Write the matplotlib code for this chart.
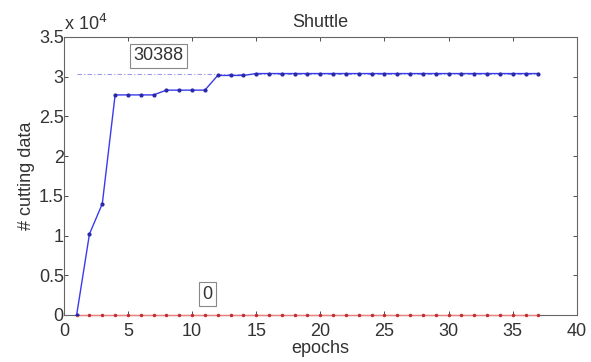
import matplotlib

matplotlib.use("Agg")

import matplotlib.pyplot as plt
from matplotlib.ticker import FuncFormatter

plt.rcParams["font.family"] = ["Liberation Sans", "DejaVu Sans"]

# data (cutting data per epoch)
epochs = list(range(1, 38))
blue_counts = [0, 10200, 14000, 27700, 27700, 27700, 27700, 28300, 28300, 28300, 28300,
               30150, 30150, 30150] + [30388] * 23
red_counts = [0] * 37
final_value = 30388
final_label = "30388"
zero_label = "0"
scale = 1e4

fig = plt.figure(figsize=(5.91, 3.62), dpi=100)
ax = fig.add_axes([0.108, 0.13, 0.868, 0.768])

text_color = "#333333"
ax.axhline(final_value, xmin=1 / 40, xmax=37 / 40, color="#9999ee", linestyle=(0, (4, 2, 1, 2)),
           linewidth=0.8)
ax.plot(epochs, red_counts, color="#f08080", linewidth=1.0, marker=".", markersize=3,
        markerfacecolor="#c03030", markeredgecolor="#c03030", clip_on=False, zorder=3)
ax.plot(epochs, blue_counts, color="#3a3aee", linewidth=1.0, marker=".", markersize=4,
        markerfacecolor="#2828a8", markeredgecolor="#2828a8", zorder=4)

box = dict(boxstyle="square,pad=0.2", facecolor="white", edgecolor="#888888", linewidth=0.8)
ax.text(7.4, 32600, final_label, ha="center", va="center", fontsize=13, color=text_color, bbox=box)
ax.text(11.2, 2600, zero_label, ha="center", va="center", fontsize=13, color=text_color, bbox=box)

ax.set_xlim(0, 40)
ax.set_ylim(0, 35000)
ax.set_xticks(range(0, 41, 5))
ax.set_yticks([i * 5000 for i in range(8)])
ax.yaxis.set_major_formatter(FuncFormatter(lambda v, pos: f"{v / scale:g}"))
ax.text(0.0, 1.012, r"x 10$^{4}$", transform=ax.transAxes, ha="left", va="bottom",
        fontsize=13, color=text_color)

ax.tick_params(direction="in", top=True, right=True, labelsize=13, colors=text_color,
               length=3, width=0.6)
ax.tick_params(axis="x", pad=6)
ax.tick_params(axis="y", pad=0)
for spine in ax.spines.values():
    spine.set_color("#666666")
    spine.set_linewidth(0.8)

ax.set_title("Shuttle", fontsize=13, color=text_color, pad=7)
ax.set_xlabel("epochs", fontsize=13, color=text_color, labelpad=0)
ax.set_ylabel("# cutting data", fontsize=13, color=text_color, labelpad=3)

fig.savefig("out.png", dpi=100)
